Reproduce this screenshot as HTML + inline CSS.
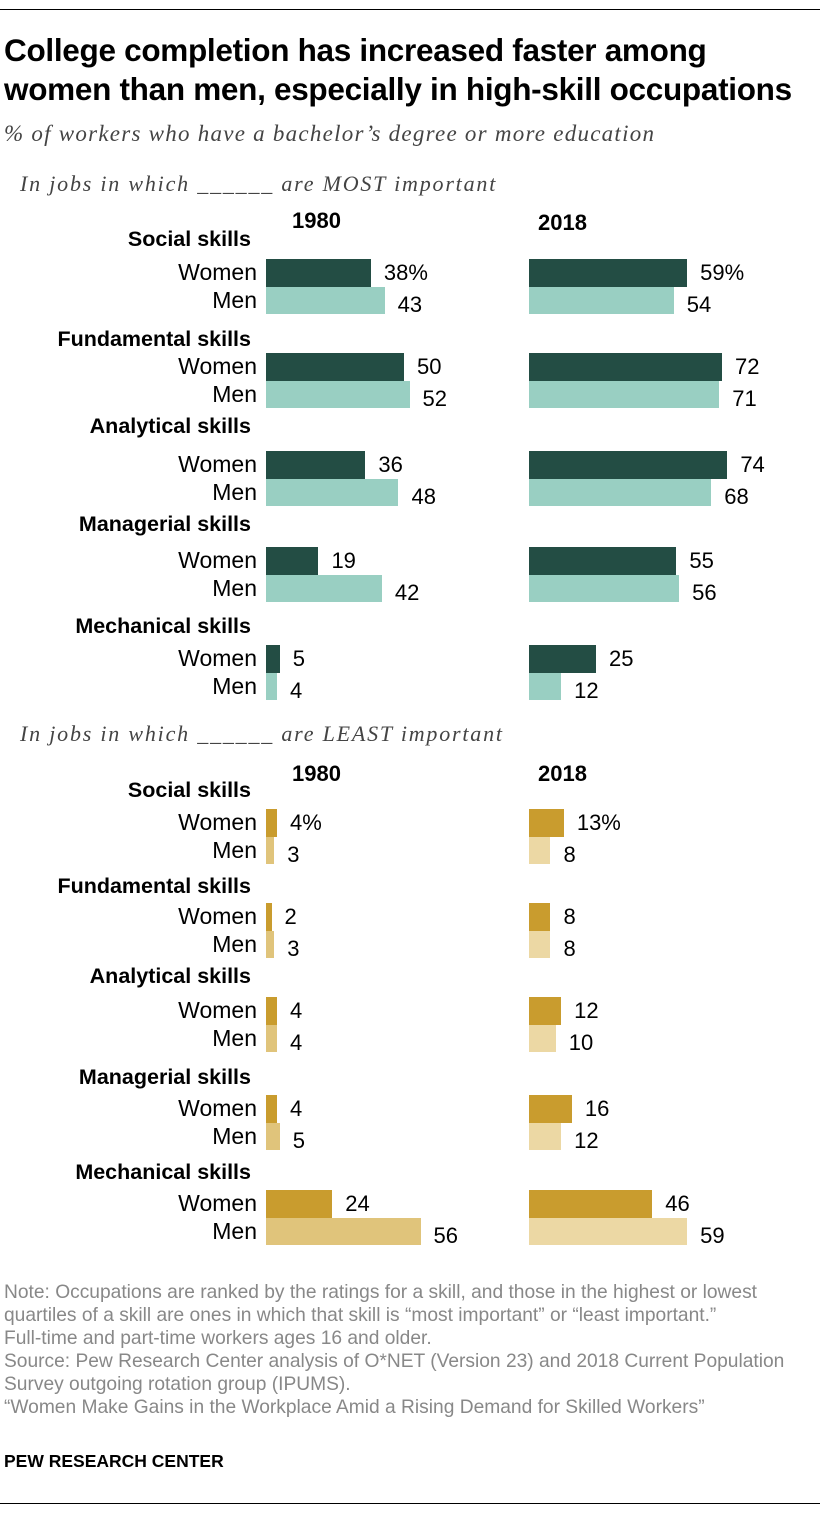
<!DOCTYPE html>
<html><head><meta charset="utf-8"><style>
body{margin:0;background:#fff;font-family:"Liberation Sans",sans-serif;}
.wrap{position:relative;width:832px;height:1514px;overflow:hidden}
.t{position:absolute;white-space:nowrap;color:#000}
.it{font-style:italic;font-family:'Liberation Serif',serif;color:#444}
</style></head><body>
<div class="wrap" id="w">
<div class="t" style="left:0;top:9px;width:820px;border-top:1px solid #000"></div>
<div class="t" style="left:4px;top:31px;font-size:31.5px;font-weight:bold;line-height:39px;letter-spacing:-0.3px">College completion has increased faster among<br>women than men, especially in high-skill occupations</div>
<div class="t it" style="left:4px;top:121px;font-size:23px;letter-spacing:1.25px">% of workers who have a bachelor’s degree or more education</div>
<div class="t it" style="left:20px;top:171px;font-size:22px;letter-spacing:1.8px">In jobs in which ______ are MOST important</div>
<div class="t it" style="left:20px;top:721px;font-size:22px;letter-spacing:1.8px">In jobs in which ______ are LEAST important</div>
<div class="t" style="left:292px;top:208px;font-size:22px;font-weight:bold">1980</div>
<div class="t" style="left:538px;top:210px;font-size:22px;font-weight:bold">2018</div>
<div class="t" style="left:292px;top:761px;font-size:22px;font-weight:bold">1980</div>
<div class="t" style="left:538px;top:761px;font-size:22px;font-weight:bold">2018</div>
<div class="t" style="left:4px;top:1281px;font-size:19.2px;line-height:23px;color:#888">Note: Occupations are ranked by the ratings for a skill, and those in the highest or lowest<br>quartiles of a skill are ones in which that skill is “most important” or “least important.”<br>Full-time and part-time workers ages 16 and older.<br>Source: Pew Research Center analysis of O*NET (Version 23) and 2018 Current Population<br>Survey outgoing rotation group (IPUMS).<br>“Women Make Gains in the Workplace Amid a Rising Demand for Skilled Workers”</div>
<div class="t" style="left:4px;top:1451px;font-size:17.5px;font-weight:bold">PEW RESEARCH CENTER</div>
<div class="t" style="left:0;top:1503px;width:820px;border-top:1px solid #000"></div>
</div>
<script>
const skills=["Social skills","Fundamental skills","Analytical skills","Managerial skills","Mechanical skills"];
const mostW1980=[38,50,36,19,5];
const mostM1980=[43,52,48,42,4];
const mostW2018=[59,72,74,55,25];
const mostM2018=[54,71,68,56,12];
const leastW1980=[4,2,4,4,24];
const leastM1980=[3,3,4,5,56];
const leastW2018=[13,8,12,16,46];
const leastM2018=[8,8,10,12,59];
const w=document.getElementById('w');
function x1980(v){return v*2.76;}
function x2018(v){return v*2.68;}
function div(css,txt){const d=document.createElement('div');d.className='t';d.style.cssText=css;if(txt!==undefined)d.textContent=txt;w.appendChild(d);return d;}
const topY=[259,353,451,547,645];
const botY=[809,903,997,1095,1190];
const topLbl=[240,340,427,525,627];
const botLbl=[791,887,977,1078,1173];
function section(ys,lbls,W80,M80,W18,M18,cols,key){
 ys.forEach((y,i)=>{
  const l=div(`right:${832-251}px;top:${lbls[i]-13}px;font-size:21.5px;font-weight:bold`,skills[i]);
  
  
  const rows=[["Women",W80,W18,cols[0],cols[2],y],["Men",M80,M18,cols[1],cols[3],y+28]];
  rows.forEach((r,j)=>{
   const yy=r[5];
   const g=div(`right:${832-257}px;top:${yy}px;font-size:23px`,r[0]);
   
   
   [[266,r[1][i],r[3],x1980,'1980'],[529,r[2][i],r[4],x2018,'2018']].forEach(p=>{
    const wd=p[3](p[1]);
    const b=div(`left:${p[0]}px;top:${yy}px;width:${wd}px;height:${j?27:28}px;background:${p[2]}`);
    
    
    const t=div(`left:${p[0]+wd+13}px;top:${yy+1+(j?4:0)}px;font-size:22px`,p[1]+(i===0&&j===0?'%':''));
    
    
   });
  });
 });
}
section(topY,topLbl,mostW1980,mostM1980,mostW2018,mostM2018,['#234d44','#99cfc2','#234d44','#99cfc2'],'most');
section(botY,botLbl,leastW1980,leastM1980,leastW2018,leastM2018,['#c99c2e','#e0c47b','#c99c2e','#ecd8a4'],'least');
</script>
</body></html>
